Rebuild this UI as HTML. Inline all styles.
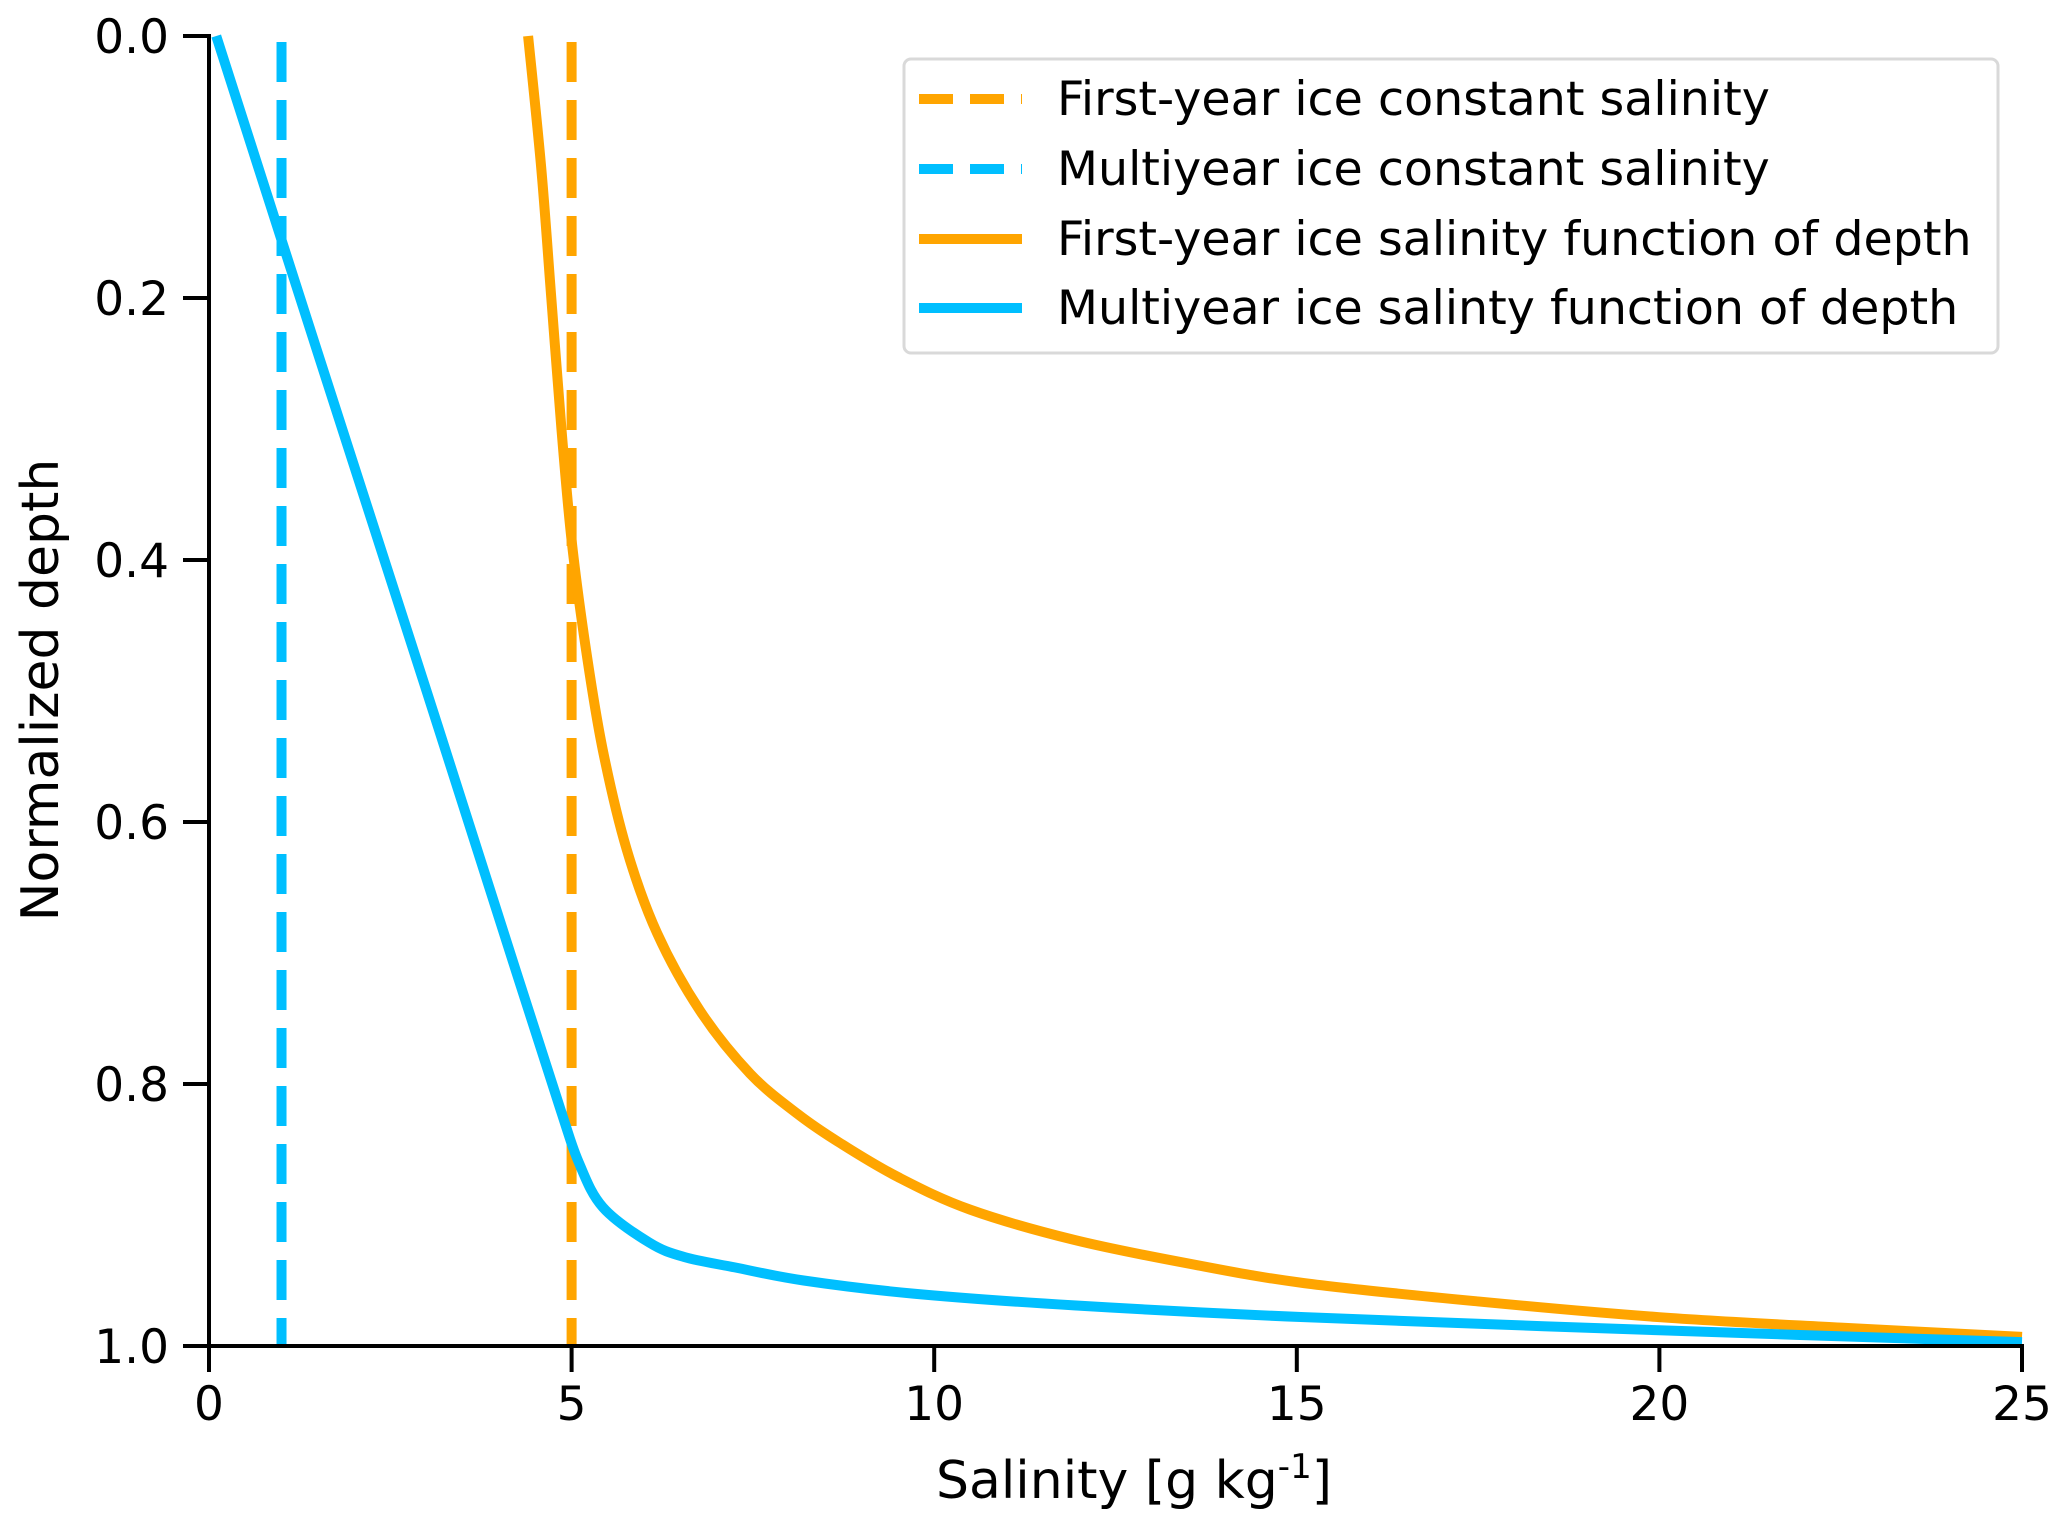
<!DOCTYPE html>
<html><head><meta charset="utf-8"><style>
html,body{margin:0;padding:0;background:#fff;}
svg text{font-family:"DejaVu Sans","Liberation Sans",sans-serif;fill:#000;}
</style></head><body>
<svg id="chart" width="2067" height="1526" viewBox="0 0 2067 1526" xmlns="http://www.w3.org/2000/svg">
<g id="plot"></g>
<g id="axes"></g>
<g id="legend"></g>
</svg>
<script>
const xTicks = [0, 5, 10, 15, 20, 25];
const yTicks = [0.0, 0.2, 0.4, 0.6, 0.8, 1.0];
const xTickLabels = ["0", "5", "10", "15", "20", "25"];
const yTickLabels = ["0.0", "0.2", "0.4", "0.6", "0.8", "1.0"];
const myX = [0.1, 1.5, 3.0, 4.24, 4.85, 5.1, 5.43, 6.07, 6.55, 7.25, 8.2, 9.71, 11.93, 15.1, 20, 25];
const myY = [0, 0.242, 0.5, 0.715, 0.82, 0.86, 0.894, 0.921, 0.932, 0.94, 0.95, 0.96, 0.969, 0.978, 0.988, 0.997];
const fyX = [4.4, 4.58, 4.72, 4.86, 5.0, 5.2, 5.43, 5.76, 6.18, 6.77, 7.46, 8.12, 8.7, 9.5, 10.5, 11.93, 13.5, 15.1, 17.5, 20, 22.5, 25];
const fyY = [0, 0.1, 0.2, 0.3, 0.385, 0.469, 0.545, 0.621, 0.685, 0.744, 0.792, 0.823, 0.845, 0.871, 0.896, 0.919, 0.937, 0.952, 0.966, 0.978, 0.986, 0.993];
const fyConst = 5;
const myConst = 1;
const legendLabels = ["First-year ice constant salinity", "Multiyear ice constant salinity", "First-year ice salinity function of depth", "Multiyear ice salinty function of depth"];

const NS = "http://www.w3.org/2000/svg";
const L = 209, R = 2022, T = 36, B = 1346;
const xMin = 0, xMax = 25, yMin = 0, yMax = 1;
const xs = v => L + (v - xMin) / (xMax - xMin) * (R - L);
const ys = v => T + (v - yMin) / (yMax - yMin) * (B - T);
const ORANGE = "#FFA500", CYAN = "#00BFFF";
function mk(tag, attrs, parent) { const e = document.createElementNS(NS, tag); for (const k in attrs) e.setAttribute(k, attrs[k]); parent.appendChild(e); return e; }
function smoothPath(X, Y) {
  const p = X.map((x, i) => [xs(x), ys(Y[i])]);
  let d = 'M' + p[0][0] + ',' + p[0][1];
  for (let i = 0; i < p.length - 1; i++) {
    const p0 = p[i - 1] || p[i], p1 = p[i], p2 = p[i + 1], p3 = p[i + 2] || p2;
    const c1 = [p1[0] + (p2[0] - p0[0]) / 6, p1[1] + (p2[1] - p0[1]) / 6];
    const c2 = [p2[0] - (p3[0] - p1[0]) / 6, p2[1] - (p3[1] - p1[1]) / 6];
    d += ' C' + c1[0] + ',' + c1[1] + ' ' + c2[0] + ',' + c2[1] + ' ' + p2[0] + ',' + p2[1];
  }
  return d;
}
const plot = document.getElementById('plot');
const axes = document.getElementById('axes');
const legend = document.getElementById('legend');

let e;
e = mk('line', {x1: xs(fyConst), x2: xs(fyConst), y1: ys(0) + 6, y2: ys(1), stroke: ORANGE, 'stroke-width': 10, 'stroke-dasharray': '40 18'}, plot);


e = mk('line', {x1: xs(myConst), x2: xs(myConst), y1: ys(0) + 6, y2: ys(1), stroke: CYAN, 'stroke-width': 10, 'stroke-dasharray': '40 18'}, plot);


e = mk('path', {d: smoothPath(fyX, fyY), fill: 'none', stroke: ORANGE, 'stroke-width': 10, 'stroke-linejoin': 'round'}, plot);


e = mk('path', {d: smoothPath(myX, myY), fill: 'none', stroke: CYAN, 'stroke-width': 10, 'stroke-linejoin': 'round'}, plot);



e = mk('line', {x1: L, x2: L, y1: T - 2, y2: B + 2, stroke: '#000', 'stroke-width': 4}, axes);


e = mk('line', {x1: L - 2, x2: R + 2, y1: B, y2: B, stroke: '#000', 'stroke-width': 4}, axes);


xTicks.forEach((v, i) => {
  const t = mk('line', {x1: xs(v), x2: xs(v), y1: B, y2: B + 26, stroke: '#000', 'stroke-width': 4}, axes);
  
  
  const tx = mk('text', {x: xs(v), y: B + 74, 'font-size': 47, 'text-anchor': 'middle'}, axes);
  tx.textContent = xTickLabels[i];
  
  
});
yTicks.forEach((v, i) => {
  const t = mk('line', {x1: L - 26, x2: L, y1: ys(v), y2: ys(v), stroke: '#000', 'stroke-width': 4}, axes);
  
  
  const tx = mk('text', {x: L - 40, y: ys(v) + 17, 'font-size': 47, 'text-anchor': 'end'}, axes);
  tx.textContent = yTickLabels[i];
  
  
});
e = mk('text', {x: 1134, y: 1498, 'font-size': 52, 'text-anchor': 'middle'}, axes);
e.innerHTML = 'Salinity [g kg<tspan dy="-20" font-size="34">-1</tspan><tspan dy="20">]</tspan>';


e = mk('text', {x: 0, y: 0, 'font-size': 52, 'text-anchor': 'middle', transform: 'translate(58,690) rotate(-90)'}, axes);
e.textContent = 'Normalized depth';



e = mk('rect', {x: 904, y: 59, width: 1094, height: 294, rx: 7, fill: '#fff', stroke: '#d9d9d9', 'stroke-width': 3}, legend);


const legColors = [ORANGE, CYAN, ORANGE, CYAN];
const legDash = [true, true, false, false];
const legY = [99, 169, 239, 308];
legendLabels.forEach((lab, i) => {
  const g = mk('g', {}, legend);
  
  
  const ln = mk('line', {x1: 919, x2: 1022, y1: legY[i], y2: legY[i], stroke: legColors[i], 'stroke-width': 10}, g);
  if (legDash[i]) ln.setAttribute('stroke-dasharray', '34 17');
  
  
  const tx = mk('text', {x: 1057, y: legY[i] + 16, 'font-size': 47.5}, g);
  tx.textContent = lab;
  
  
});
</script>
</body></html>
